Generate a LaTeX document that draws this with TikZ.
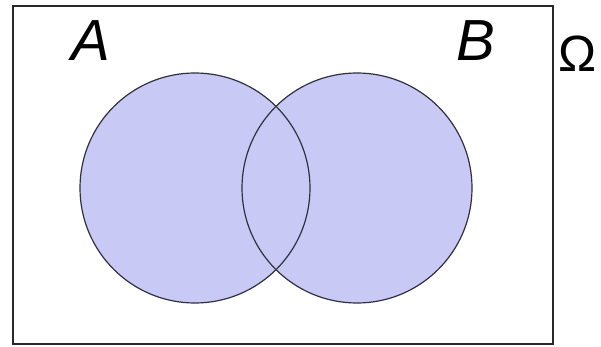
\documentclass[tikz,border=0pt]{standalone}
\usepackage{fontspec}
\setmainfont{Liberation Sans}
\usepackage{xcolor}
\usepackage{tikz}
\usetikzlibrary{positioning}

\definecolor{setblue}{RGB}{200,202,245}
\definecolor{setline}{RGB}{48,48,64}
\definecolor{boxline}{RGB}{40,40,40}

\tikzset{
  setfill/.style={circle, fill=setblue, minimum size=230pt, inner sep=0pt},
  setedge/.style={circle, draw=setline, line width=1.2pt, minimum size=230pt, inner sep=0pt},
  setlabel/.style={font=\itshape\fontsize{58}{60}\selectfont, inner sep=0pt},
}

\begin{document}
\begin{tikzpicture}[x=1pt,y=-1pt]
    \useasboundingbox (0,0) rectangle (601,347);
    % universe
    \draw[boxline,line width=2pt] (13,6) rectangle (553,344);
    \node[font=\fontsize{51}{56}\selectfont, inner sep=0pt] (omega) at (578,54) {Ω};
    % the two sets
    \foreach \n/\cx in {A/195,B/357}
      \node[setfill] (circ\n) at (\cx,188) {};
    \foreach \n in {A,B}
      \node[setedge] at (circ\n) {};
    \node[setlabel] (labA) at (91,41) {A};
    \node[setlabel] (labB) at (476,41) {B};
  \end{tikzpicture}
\end{document}
